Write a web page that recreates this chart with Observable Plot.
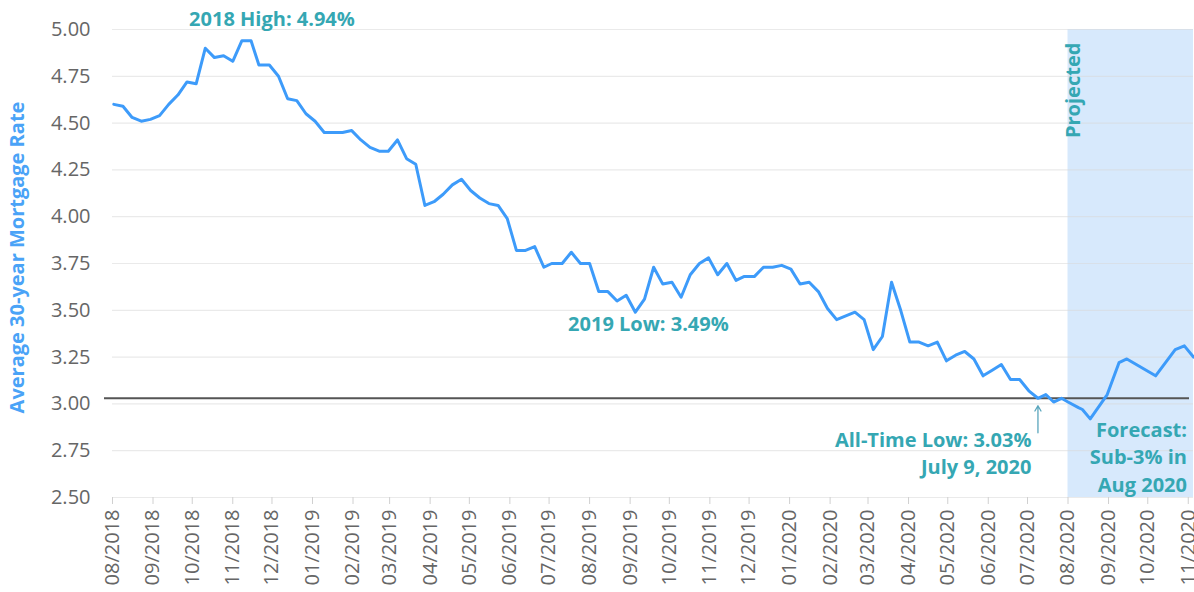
<!DOCTYPE html>
<html><head><meta charset="utf-8">
<script src="https://cdn.jsdelivr.net/npm/d3@7"></script>
<script src="https://cdn.jsdelivr.net/npm/@observablehq/plot@0.6"></script>
<style>body{margin:0;background:#fff;overflow:hidden}</style>
</head><body><div id="chart"></div>
<script>
// Weekly average 30-year mortgage rate (actual to Jul 9 2020, projected after)
const dates = [
  "2018-08-02","2018-08-09","2018-08-16","2018-08-23","2018-08-30","2018-09-06","2018-09-13","2018-09-20","2018-09-27",
  "2018-10-04","2018-10-11","2018-10-18","2018-10-25","2018-11-01","2018-11-08","2018-11-15","2018-11-21","2018-11-29",
  "2018-12-06","2018-12-13","2018-12-20","2018-12-27",
  "2019-01-03","2019-01-10","2019-01-17","2019-01-24","2019-01-31","2019-02-07","2019-02-14","2019-02-21","2019-02-28",
  "2019-03-07","2019-03-14","2019-03-21","2019-03-28","2019-04-04","2019-04-11","2019-04-18","2019-04-25",
  "2019-05-02","2019-05-09","2019-05-16","2019-05-23","2019-05-30","2019-06-06","2019-06-13","2019-06-20","2019-06-27",
  "2019-07-03","2019-07-11","2019-07-18","2019-07-25","2019-08-01","2019-08-08","2019-08-15","2019-08-22","2019-08-29",
  "2019-09-05","2019-09-12","2019-09-19","2019-09-26","2019-10-03","2019-10-10","2019-10-17","2019-10-24","2019-10-31",
  "2019-11-07","2019-11-14","2019-11-21","2019-11-27","2019-12-05","2019-12-12","2019-12-19","2019-12-26",
  "2020-01-02","2020-01-09","2020-01-16","2020-01-23","2020-01-30","2020-02-06","2020-02-13","2020-02-20","2020-02-27",
  "2020-03-05","2020-03-12","2020-03-19","2020-03-26","2020-04-02","2020-04-09","2020-04-16","2020-04-23","2020-04-30",
  "2020-05-07","2020-05-14","2020-05-21","2020-05-28","2020-06-04","2020-06-11","2020-06-18","2020-06-25",
  "2020-07-02","2020-07-09",
  "2020-07-15","2020-07-21","2020-07-27","2020-08-01","2020-08-09","2020-08-12","2020-08-18","2020-08-31",
  "2020-09-09","2020-09-15","2020-10-07","2020-10-22","2020-10-29","2020-11-05"
];
const rates = [
  4.60,4.59,4.53,4.51,4.52,4.54,4.60,4.65,4.72,
  4.71,4.90,4.85,4.86,4.83,4.94,4.94,4.81,4.81,
  4.75,4.63,4.62,4.55,
  4.51,4.45,4.45,4.45,4.46,4.41,4.37,4.35,4.35,
  4.41,4.31,4.28,4.06,4.08,4.12,4.17,4.20,
  4.14,4.10,4.07,4.06,3.99,3.82,3.82,3.84,3.73,
  3.75,3.75,3.81,3.75,3.75,3.60,3.60,3.55,3.58,
  3.49,3.56,3.73,3.64,3.65,3.57,3.69,3.75,3.78,
  3.69,3.75,3.66,3.68,3.68,3.73,3.73,3.74,
  3.72,3.64,3.65,3.60,3.51,3.45,3.47,3.49,3.45,
  3.29,3.36,3.65,3.50,3.33,3.33,3.31,3.33,3.23,
  3.26,3.28,3.24,3.15,3.18,3.21,3.13,3.13,
  3.07,3.03,
  3.05,3.01,3.03,3.01,2.98,2.97,2.92,3.05,
  3.22,3.24,3.15,3.29,3.31,3.25
];
const yTicks = [2.5, 2.75, 3, 3.25, 3.5, 3.75, 4, 4.25, 4.5, 4.75, 5];
const xDomain = ["2018-08-01", "2020-11-05"];
const projectedRange = ["2020-08-01", "2020-11-05"];
const allTimeLow = 3.03;
const yTitle = "Average 30-year Mortgage Rate";

// annotations centred on their point
const centerTexts = ["2018 High: 4.94%", "2019 Low: 3.49%"];
const centerDates = ["2018-12-01", "2019-09-15"];
const centerValues = [5.055, 3.424];
// annotations right-aligned to their point
const rightTexts = ["All-Time Low: 3.03%\nJuly 9, 2020", "Forecast:\nSub-3% in\nAug 2020"];
const rightDates = ["2020-07-04", "2020-10-31"];
const rightValues = [2.745, 2.725];

const projectedLabel = "Projected";
const projectedLabelDate = "2020-08-05";
const projectedLabelValue = 4.675;
const arrowDate = "2020-07-09";
const arrowFrom = 2.846;
const arrowTo = 2.99;

const parse = d3.utcParse("%Y-%m-%d");
const series = dates.map((d, i) => ({date: parse(d), rate: rates[i]}));
const centerNotes = centerTexts.map((t, i) => ({text: t, date: parse(centerDates[i]), value: centerValues[i]}));
const rightNotes = rightTexts.map((t, i) => ({text: t, date: parse(rightDates[i]), value: rightValues[i]}));

const teal = "#35a7b3";
const blue = "#3d9bfa";

const chart = Plot.plot({
  width: 1194,
  height: 592,
  marginTop: 29,
  marginBottom: 95,
  marginLeft: 112,
  marginRight: 1,
  style: {fontFamily: "'Open Sans', sans-serif", fontSize: "20px", background: "#fff", overflow: "visible"},
  x: {type: "utc", domain: xDomain.map(parse)},
  y: {domain: [yTicks[0], yTicks[yTicks.length - 1]]},
  marks: [
    Plot.rect([{x1: parse(projectedRange[0]), x2: parse(projectedRange[1]), y1: yTicks[0], y2: yTicks[yTicks.length - 1]}],
      {x1: "x1", x2: "x2", y1: "y1", y2: "y2", fill: "#d7e9fc"}),
    Plot.gridY(yTicks, {stroke: "#d9d9d9", strokeOpacity: 0.55, strokeWidth: 1.2}),
    Plot.axisY(yTicks, {tickSize: 0, tickPadding: 22, tickFormat: d3.format(".2f"), fill: "#666", fontSize: 20, label: null}),
    Plot.axisX({ticks: d3.utcMonth.every(1), tickFormat: d3.utcFormat("%m/%Y"), tickRotate: -90, tickSize: 7,
      tickPadding: 5, stroke: "#d0d0d0", fill: "#666", fontSize: 20, label: null}),
    Plot.ruleY([allTimeLow], {stroke: "#555", strokeWidth: 2, insetLeft: -8, insetRight: 4}),
    Plot.line(series, {x: "date", y: "rate", stroke: blue, strokeWidth: 3, strokeLinejoin: "round"}),
    Plot.arrow([{x: parse(arrowDate), y1: arrowFrom, y2: arrowTo}],
      {x1: "x", x2: "x", y1: "y1", y2: "y2", stroke: "#5aa6bd", strokeWidth: 1.3, headLength: 7}),
    Plot.text(centerNotes, {x: "date", y: "value", text: "text", textAnchor: "middle", fill: teal,
      fontWeight: "bold", fontSize: 20}),
    Plot.text(rightNotes, {x: "date", y: "value", text: "text", textAnchor: "end", fill: teal,
      fontWeight: "bold", fontSize: 20, lineHeight: 1.37}),
    Plot.text([projectedLabel], {x: () => parse(projectedLabelDate), y: () => projectedLabelValue, text: d => d,
      rotate: -90, textAnchor: "middle", fill: teal, fontWeight: "bold", fontSize: 20}),
    Plot.text([yTitle], {frameAnchor: "left", text: d => d, rotate: -90, textAnchor: "middle", dx: -95, dy: -6, fill: "#4aa3f7",
      fontWeight: "bold", fontSize: 20})
  ]
});
document.getElementById("chart").append(chart);
</script>
</body></html>
